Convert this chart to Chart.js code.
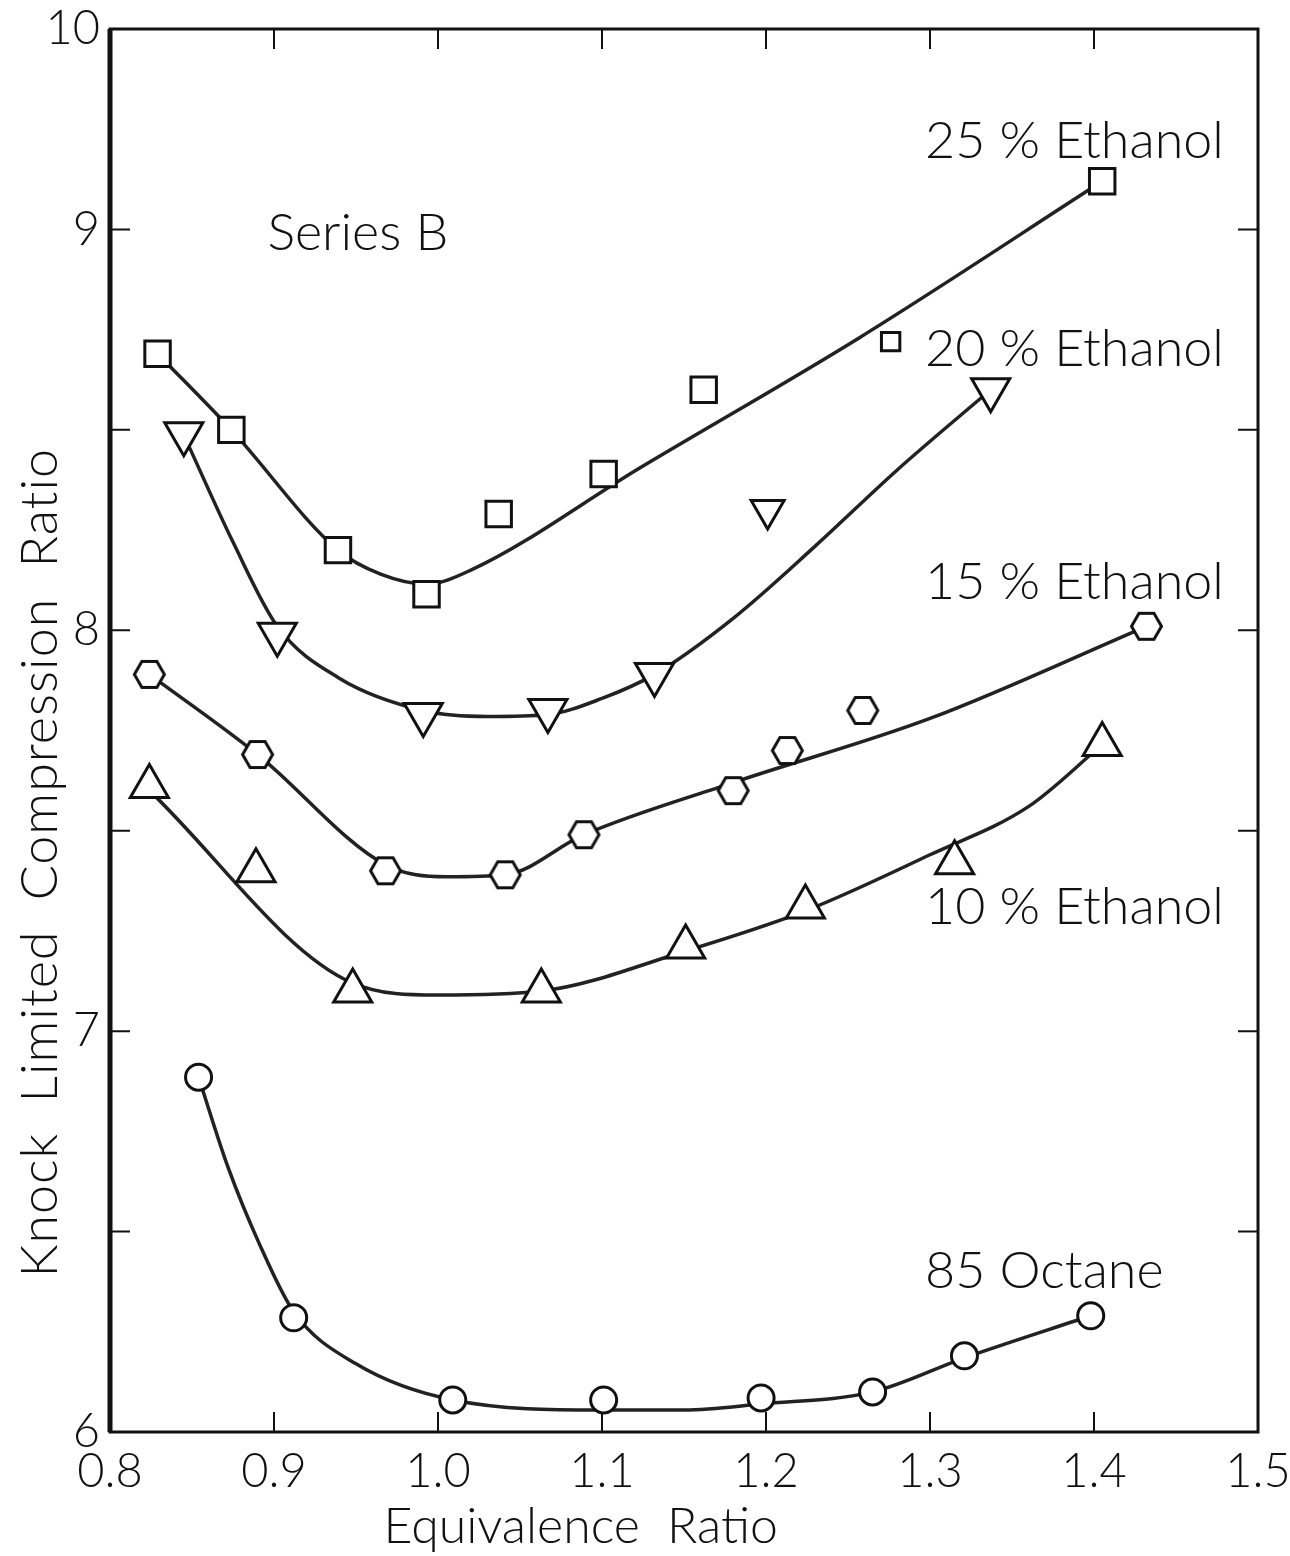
<!DOCTYPE html>
<html>
<head>
<meta charset="utf-8">
<title>Knock limited compression ratio - Series B</title>
<script src="https://cdn.jsdelivr.net/npm/chart.js@4.4.1/dist/chart.umd.min.js"></script>
<style>
  html, body { margin: 0; padding: 0; background: #fff; }
  #chart { display: block; }
</style>
</head>
<body>
<canvas id="chart" width="1290" height="1556"></canvas>
<script>
// measured points, equivalence ratio vs knock limited compression ratio
var phi25 = [0.829, 0.874, 0.939, 0.993, 1.037, 1.101, 1.162, 1.276, 1.405];
var cr25  = [8.69, 8.50, 8.20, 8.09, 8.29, 8.39, 8.60, 8.72, 9.12];
var phi20 = [0.845, 0.902, 0.991, 1.067, 1.132, 1.201, 1.337];
var cr20  = [8.49, 7.99, 7.79, 7.80, 7.89, 8.30, 8.60];
var phi15 = [0.824, 0.890, 0.968, 1.041, 1.089, 1.180, 1.213, 1.259, 1.432];
var cr15  = [7.89, 7.69, 7.40, 7.39, 7.49, 7.60, 7.70, 7.80, 8.01];
var phi10 = [0.824, 0.889, 0.948, 1.063, 1.151, 1.224, 1.315, 1.405];
var cr10  = [7.61, 7.40, 7.10, 7.10, 7.21, 7.31, 7.42, 7.715];
var phi85 = [0.854, 0.912, 1.009, 1.101, 1.197, 1.265, 1.321, 1.398];
var cr85  = [6.885, 6.285, 6.08, 6.08, 6.085, 6.10, 6.19, 6.29];

// hand faired curves through each set
var fitPhi25 = [0.829, 0.874, 0.939, 0.965, 0.993, 1.02, 1.123, 1.257, 1.405];
var fitCr25  = [8.69, 8.50, 8.20, 8.14, 8.115, 8.15, 8.405, 8.73, 9.12];
var fitPhi20 = [0.848, 0.875, 0.902, 0.94, 0.991, 1.03, 1.067, 1.10, 1.132, 1.18, 1.23, 1.28, 1.337];
var fitCr20  = [8.46, 8.22, 8.01, 7.88, 7.80, 7.785, 7.79, 7.83, 7.89, 8.03, 8.21, 8.40, 8.60];
var fitPhi15 = [0.824, 0.890, 0.968, 1.005, 1.041, 1.089, 1.180, 1.30, 1.432];
var fitCr15  = [7.89, 7.69, 7.415, 7.385, 7.39, 7.49, 7.62, 7.78, 8.01];
var fitPhi10 = [0.824, 0.948, 1.0, 1.063, 1.151, 1.224, 1.30, 1.36, 1.405];
var fitCr10  = [7.60, 7.12, 7.09, 7.10, 7.20, 7.30, 7.44, 7.56, 7.715];
var fitPhi85 = [0.854, 0.872, 0.891, 0.912, 0.95, 1.009, 1.10, 1.15, 1.197, 1.265, 1.321, 1.398];
var fitCr85  = [6.885, 6.66, 6.47, 6.30, 6.17, 6.08, 6.055, 6.055, 6.07, 6.10, 6.185, 6.29];

// axis ticks
var xTickValues = [0.8, 0.9, 1.0, 1.1, 1.2, 1.3, 1.4, 1.5];
var xTickLabels = ['0.8', '0.9', '1.0', '1.1', '1.2', '1.3', '1.4', '1.5'];
var yTickValues = [6, 6.5, 7, 7.5, 8, 8.5, 9, 9.5];
var yTickLabels = ['6', '', '7', '', '8', '', '9', '10'];

// curve labels: text, phi, ratio at left end of the text
var noteText = ['25 % Ethanol', '20 % Ethanol', '15 % Ethanol', '10 % Ethanol', '85 Octane', 'Series B'];
var notePhi  = [1.297, 1.297, 1.297, 1.297, 1.297, 0.896];
var noteCr   = [9.22, 8.70, 8.12, 7.31, 6.40, 8.99];

var FONT = 'Lato, "Open Sans", sans-serif';
var INK = '#111';

function pts(xs, ys) {
    return xs.map(function(x, i) { return { x: x, y: ys[i] }; });
}

// white hexagon marker for the 15 % set
function hexagon(r, lw) {
    var c = document.createElement('canvas');
    var s = Math.ceil(2 * r + lw + 2);
    c.width = s; c.height = s;
    var g = c.getContext('2d');
    g.beginPath();
    for (var i = 0; i < 6; i++) {
        var a = i * Math.PI / 3;
        g.lineTo(s / 2 + r * Math.cos(a), s / 2 + r * Math.sin(a));
    }
    g.closePath();
    g.fillStyle = '#fff';
    g.fill();
    g.lineWidth = lw;
    g.strokeStyle = INK;
    g.stroke();
    return c;
}

function markers(label, xs, ys, style, radius, extra) {
    var ds = {
        label: label,
        data: pts(xs, ys),
        showLine: false,
        pointStyle: style,
        pointRadius: radius,
        pointBackgroundColor: '#fff',
        pointBorderColor: INK,
        pointBorderWidth: 3,
        order: 1
    };
    return Object.assign(ds, extra || {});
}

function curve(label, xs, ys) {
    return {
        label: label,
        data: pts(xs, ys),
        showLine: true,
        borderColor: '#222',
        borderWidth: 3.5,
        pointRadius: 0,
        cubicInterpolationMode: 'monotone',
        order: 2
    };
}

// box round the plot with inward ticks on all four sides
var frame = {
    id: 'frame',
    beforeDatasetsDraw: function(chart) {
        var c = chart.ctx, a = chart.chartArea;
        var xs = chart.scales.x, ys = chart.scales.y;
        var len = 20;
        c.save();
        c.strokeStyle = INK;
        c.lineWidth = 2;
        xTickValues.slice(1, -1).forEach(function(v) {
            var px = xs.getPixelForValue(v);
            c.beginPath();
            c.moveTo(px, a.bottom); c.lineTo(px, a.bottom - len);
            c.moveTo(px, a.top); c.lineTo(px, a.top + len);
            c.stroke();
        });
        yTickValues.slice(1, -1).forEach(function(v) {
            var py = ys.getPixelForValue(v);
            c.beginPath();
            c.moveTo(a.left, py); c.lineTo(a.left + len, py);
            c.moveTo(a.right, py); c.lineTo(a.right - len, py);
            c.stroke();
        });
        c.lineWidth = 3;
        c.strokeRect(a.left, a.top, a.right - a.left, a.bottom - a.top);
        c.lineWidth = 5;
        c.beginPath();
        c.moveTo(a.left, a.top); c.lineTo(a.left, a.bottom);
        c.stroke();
        c.restore();
    }
};

// curve labels and axis titles
var notes = {
    id: 'notes',
    afterDraw: function(chart) {
        var c = chart.ctx;
        var xs = chart.scales.x, ys = chart.scales.y;
        c.save();
        c.fillStyle = INK;
        c.textBaseline = 'middle';
        c.textAlign = 'left';
        c.font = '300 52px ' + FONT;
        noteText.forEach(function(t, i) {
            c.fillText(t, xs.getPixelForValue(notePhi[i]), ys.getPixelForValue(noteCr[i]));
        });

        c.textAlign = 'center';
        c.font = '300 50px ' + FONT;
        c.fillText('Equivalence  Ratio', xs.getPixelForValue(1.087), 1527);

        c.font = '300 52px ' + FONT;
        c.letterSpacing = '1px';
        c.translate(40, ys.getPixelForValue(7.42));
        c.rotate(-Math.PI / 2);
        c.fillText('Knock  Limited  Compression  Ratio', 0, 0);
        c.restore();
    }
};

var tickFont = { family: FONT, size: 47, weight: '300' };

function noScalePadding(s) {
    s.paddingLeft = 0;
    s.paddingRight = 0;
    s.paddingTop = 0;
    s.paddingBottom = 0;
}

new Chart(document.getElementById('chart'), {
    type: 'scatter',
    data: {
        datasets: [
            markers('25 % Ethanol', phi25, cr25, 'rect', function(ctx) { return ctx.dataIndex === 7 ? 13 : 18; }),
            markers('20 % Ethanol', phi20, cr20, 'triangle', function(ctx) { return ctx.dataIndex === 5 ? 19 : 22; }, { pointRotation: 180 }),
            markers('15 % Ethanol', phi15, cr15, hexagon(15, 3), 15),
            markers('10 % Ethanol', phi10, cr10, 'triangle', 22),
            markers('85 Octane', phi85, cr85, 'circle', 13),
            curve('25 % Ethanol fit', fitPhi25, fitCr25),
            curve('20 % Ethanol fit', fitPhi20, fitCr20),
            curve('15 % Ethanol fit', fitPhi15, fitCr15),
            curve('10 % Ethanol fit', fitPhi10, fitCr10),
            curve('85 Octane fit', fitPhi85, fitCr85)
        ]
    },
    options: {
        responsive: false,
        animation: false,
        layout: { padding: { top: 29, right: 32, left: 0, bottom: 0 } },
        plugins: {
            legend: { display: false },
            tooltip: { enabled: false }
        },
        scales: {
            x: {
                type: 'linear',
                min: 0.8,
                max: 1.5,
                grid: { display: false, drawTicks: false },
                border: { display: false },
                afterBuildTicks: function(s) {
                    s.ticks = xTickValues.map(function(v) { return { value: v }; });
                },
                ticks: {
                    color: INK,
                    font: tickFont,
                    padding: 12,
                    maxRotation: 0,
                    autoSkip: false,
                    callback: function(v, i) { return xTickLabels[i]; }
                },
                afterFit: function(s) { s.height = 124; noScalePadding(s); }
            },
            y: {
                type: 'linear',
                min: 6,
                max: 9.5,
                grid: { display: false, drawTicks: false },
                border: { display: false },
                afterBuildTicks: function(s) {
                    s.ticks = yTickValues.map(function(v) { return { value: v }; });
                },
                ticks: {
                    color: INK,
                    font: tickFont,
                    padding: 10,
                    autoSkip: false,
                    callback: function(v, i) { return yTickLabels[i]; }
                },
                afterFit: function(s) { s.width = 110; noScalePadding(s); }
            }
        }
    },
    plugins: [frame, notes]
});
</script>
</body>
</html>
